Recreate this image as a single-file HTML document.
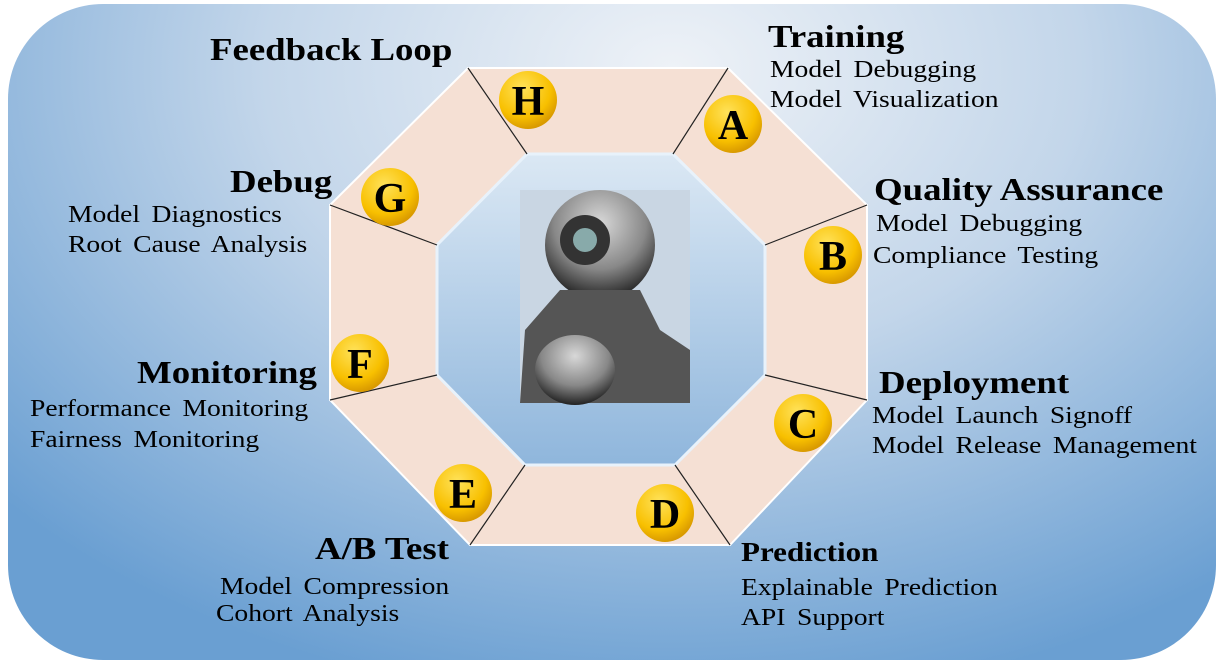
<!DOCTYPE html>
<html><head><meta charset="utf-8"><style>
body{margin:0;width:1224px;height:666px;overflow:hidden;background:#fff;font-family:"Liberation Serif",serif;}
.t{position:absolute;white-space:nowrap;color:#000;transform:scaleX(1.15);transform-origin:0 0;}
.h{font-weight:bold;font-size:32px;}
.s{font-size:24px;word-spacing:4px;line-height:30px;}
</style></head><body>
<svg width="1224" height="666" style="position:absolute;left:0;top:0">
<defs>
<radialGradient id="bg" cx="0.55" cy="0.1" r="0.75" gradientTransform="translate(0.55 0.1) scale(1 1.3) translate(-0.55 -0.1)">
<stop offset="0" stop-color="#eef2f7"/><stop offset="0.45" stop-color="#c3d6ea"/><stop offset="1" stop-color="#6a9fd2"/></radialGradient>
<linearGradient id="inn" x1="0" y1="0" x2="0" y2="1"><stop offset="0" stop-color="#dbe8f4"/><stop offset="1" stop-color="#8fb6dc"/></linearGradient>
<radialGradient id="gold" cx="0.4" cy="0.3" r="0.7"><stop offset="0" stop-color="#ffe25a"/><stop offset="0.7" stop-color="#f8c000"/><stop offset="1" stop-color="#d99a00"/></radialGradient>
<radialGradient id="rob" cx="0.5" cy="0.3" r="0.7"><stop offset="0" stop-color="#d8d8d8"/><stop offset="0.6" stop-color="#888"/><stop offset="1" stop-color="#222"/></radialGradient>
</defs>
<rect x="8" y="4" width="1208" height="656" rx="95" fill="url(#bg)"/>
<polygon points="468,68 728,68 867,205 867,400 730,545 470,545 330,400 330,205" fill="#f5e0d4" stroke="#fff" stroke-width="2"/>
<polygon points="527,154 673,154 765,245 765,375 675,465 525,465 437,375 437,245" fill="url(#inn)" stroke="#e8f2fb" stroke-width="3"/>
<g stroke="#222" stroke-width="1.2">
<line x1="468" y1="68" x2="527" y2="154"/><line x1="728" y1="68" x2="673" y2="154"/>
<line x1="867" y1="205" x2="765" y2="245"/><line x1="867" y1="400" x2="765" y2="375"/>
<line x1="730" y1="545" x2="675" y2="465"/><line x1="470" y1="545" x2="525" y2="465"/>
<line x1="330" y1="400" x2="437" y2="375"/><line x1="330" y1="205" x2="437" y2="245"/>
</g>
<rect x="520" y="190" width="170" height="213" fill="#c9d6e3"/>
<ellipse cx="600" cy="245" rx="55" ry="55" fill="url(#rob)"/>
<circle cx="585" cy="240" r="25" fill="#333"/><circle cx="585" cy="240" r="12" fill="#8aa"/>
<path d="M560 290 L640 290 L660 330 L690 350 L690 403 L520 403 L525 330 Z" fill="#555"/>
<ellipse cx="575" cy="370" rx="40" ry="35" fill="url(#rob)"/>
<g font-family="Liberation Serif,serif" font-weight="bold" font-size="42" text-anchor="middle">
<circle cx="528" cy="100" r="29" fill="url(#gold)"/><text x="528" y="115">H</text>
<circle cx="733" cy="124" r="29" fill="url(#gold)"/><text x="733" y="139">A</text>
<circle cx="833" cy="255" r="29" fill="url(#gold)"/><text x="833" y="270">B</text>
<circle cx="803" cy="423" r="29" fill="url(#gold)"/><text x="803" y="438">C</text>
<circle cx="665" cy="513" r="29" fill="url(#gold)"/><text x="665" y="528">D</text>
<circle cx="463" cy="493" r="29" fill="url(#gold)"/><text x="463" y="508">E</text>
<circle cx="360" cy="363" r="29" fill="url(#gold)"/><text x="360" y="378">F</text>
<circle cx="390" cy="197" r="29" fill="url(#gold)"/><text x="390" y="212">G</text>
</g>
</svg>
<div class="t h" style="left:210px;top:31px">Feedback Loop</div>
<div class="t h" style="left:768px;top:18px">Training</div>
<div class="t s" style="left:770px;top:55px">Model Debugging<br>Model Visualization</div>
<div class="t h" style="left:874px;top:171px">Quality Assurance</div>
<div class="t s" style="left:876px;top:209px">Model Debugging</div>
<div class="t s" style="left:873px;top:241px">Compliance Testing</div>
<div class="t h" style="left:230px;top:163px">Debug</div>
<div class="t s" style="left:68px;top:200px">Model Diagnostics<br>Root Cause Analysis</div>
<div class="t h" style="left:137px;top:354px">Monitoring</div>
<div class="t s" style="left:30px;top:394px">Performance Monitoring</div>
<div class="t s" style="left:30px;top:425px">Fairness Monitoring</div>
<div class="t h" style="left:879px;top:364px">Deployment</div>
<div class="t s" style="left:872px;top:401px">Model Launch Signoff</div>
<div class="t s" style="left:872px;top:431px">Model Release Management</div>
<div class="t h" style="left:315px;top:530px">A/B Test</div>
<div class="t s" style="left:220px;top:572px">Model Compression</div>
<div class="t s" style="left:216px;top:599px">Cohort Analysis</div>
<div class="t h" style="left:741px;top:537px;font-size:27px">Prediction</div>
<div class="t s" style="left:741px;top:573px">Explainable Prediction</div>
<div class="t s" style="left:741px;top:603px">API Support</div>
</body></html>
